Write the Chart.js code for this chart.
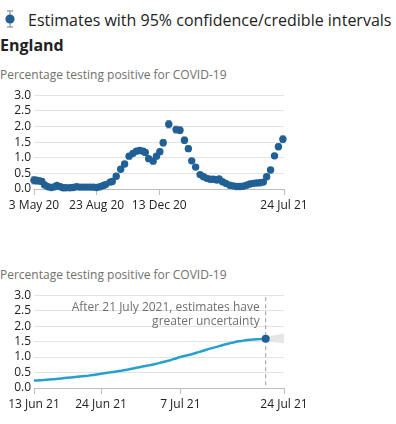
<!DOCTYPE html>
<html>
<head>
<meta charset="utf-8">
<script src="https://cdn.jsdelivr.net/npm/chart.js"></script>
<style>
body { margin:0; width:396px; height:424px; position:relative; overflow:hidden; background:#fff; color:#222; font-family:'Open Sans', sans-serif; }
.icon { position:absolute; left:4px; top:10px; }
.legend { position:absolute; left:28px; top:8px; font-size:16px; line-height:24px; white-space:nowrap; }
.place { position:absolute; left:0; top:34px; font-size:16px; line-height:22px; font-weight:bold; }
.sub { position:absolute; left:0; font-size:12px; line-height:16px; color:#707070; white-space:nowrap; }
.box { position:absolute; left:0; width:396px; }
</style>
</head>
<body>
<svg class="icon" width="12" height="18">
  <line x1="6" y1="1" x2="6" y2="17" stroke="#8c8c8c" stroke-width="1.2"/>
  <line x1="3" y1="1" x2="9" y2="1" stroke="#8c8c8c" stroke-width="1.2"/>
  <line x1="3" y1="17" x2="9" y2="17" stroke="#8c8c8c" stroke-width="1.2"/>
  <circle cx="6" cy="9" r="4.6" fill="#206095"/>
</svg>
<div class="legend">Estimates with 95% confidence/credible intervals</div>
<div class="place">England</div>
<div class="sub" style="top:67px">Percentage testing positive for COVID-19</div>
<div class="box" style="top:85px;height:130px"><canvas id="longChart"></canvas></div>
<div class="sub" style="top:267px">Percentage testing positive for COVID-19</div>
<div class="box" style="top:285px;height:131px"><canvas id="recentChart"></canvas></div>
<script>
// top chart: days since 3 May 2020
const dayOffsets = [0, 4, 9, 14, 19, 25, 31, 37, 41, 47, 52, 57, 64, 70, 76, 82, 88, 94, 100, 106,
  112, 118, 124, 128, 136, 140, 147, 155, 162, 170, 177, 183, 189, 195, 199, 205, 213, 219, 225, 231,
  241, 254, 261, 269, 276, 282, 289, 297, 303, 309, 315, 321, 327, 331, 337, 343, 350, 356, 362, 368,
  374, 380, 386, 392, 398, 404, 410, 416, 423, 430, 437, 445];
const positivity = [0.28, 0.27, 0.26, 0.24, 0.13, 0.07, 0.05, 0.07, 0.11, 0.07, 0.04, 0.04, 0.04, 0.05, 0.07, 0.06, 0.06, 0.06, 0.06, 0.06,
  0.05, 0.07, 0.11, 0.14, 0.22, 0.24, 0.41, 0.63, 0.80, 1.05, 1.14, 1.21, 1.23, 1.21, 1.17, 0.97, 0.89, 1.05, 1.19, 1.48,
  2.07, 1.90, 1.88, 1.56, 1.29, 0.90, 0.70, 0.46, 0.39, 0.34, 0.31, 0.31, 0.29, 0.32, 0.23, 0.18, 0.12, 0.10, 0.08, 0.08,
  0.09, 0.12, 0.16, 0.18, 0.19, 0.20, 0.22, 0.39, 0.61, 1.06, 1.35, 1.59];
const ciHalfWidth = [0.12, 0.11, 0.10, 0.09, 0.05, 0.04, 0.03, 0.04, 0.05, 0.03, 0.02, 0.02, 0.02, 0.02, 0.02, 0.02, 0.02, 0.02, 0.02, 0.02,
  0.02, 0.02, 0.03, 0.03, 0.04, 0.04, 0.05, 0.06, 0.07, 0.08, 0.08, 0.08, 0.08, 0.08, 0.08, 0.07, 0.07, 0.08, 0.08, 0.10,
  0.12, 0.11, 0.11, 0.10, 0.09, 0.07, 0.06, 0.05, 0.04, 0.04, 0.04, 0.04, 0.04, 0.04, 0.03, 0.03, 0.02, 0.02, 0.02, 0.02,
  0.02, 0.02, 0.03, 0.03, 0.03, 0.03, 0.03, 0.05, 0.06, 0.08, 0.09, 0.11];
const xTickDays1 = [0, 112, 224, 447];
const xTickLabels1 = ['3 May 20', '23 Aug 20', '13 Dec 20', '24 Jul 21'];

// bottom chart: days since 13 Jun 2021
const modelDays = [0, 1, 2, 3, 4, 5, 6, 7, 8, 9, 10, 11, 12, 13, 14, 15, 16, 17, 18, 19,
  20, 21, 22, 23, 24, 25, 26, 27, 28, 29, 30, 31, 32, 33, 34, 35, 36, 37, 38];
const modelPositivity = [0.24, 0.25, 0.27, 0.28, 0.30, 0.32, 0.34, 0.36, 0.38, 0.40, 0.43, 0.46, 0.49, 0.52, 0.55, 0.58, 0.62, 0.66, 0.70, 0.74,
  0.78, 0.83, 0.88, 0.94, 1.00, 1.05, 1.10, 1.16, 1.22, 1.28, 1.33, 1.39, 1.44, 1.49, 1.52, 1.55, 1.57, 1.58, 1.59];
const uncertaintyDays = [38, 39, 40, 41];
const uncertaintyLower = [1.52, 1.50, 1.47, 1.45];
const uncertaintyUpper = [1.65, 1.69, 1.73, 1.77];
const xTickDays2 = [0, 11, 24, 41];
const xTickLabels2 = ['13 Jun 21', '24 Jun 21', '7 Jul 21', '24 Jul 21'];
const noteDay = 38;
const noteLines = ['After 21 July 2021, estimates have', 'greater uncertainty'];

const yTicks = [0, 0.5, 1, 1.5, 2, 2.5, 3];

Chart.defaults.font.family = "'Open Sans', sans-serif";
Chart.defaults.color = '#222';

function makeScales(xMax, tickDays, tickLabels, xHeight) {
  return {
    x: {
      type: 'linear', min: 0, max: xMax,
      afterBuildTicks: s => { s.ticks = tickDays.map(v => ({ value: v })); },
      afterFit: s => { s.height = xHeight; },
      ticks: { autoSkip: false, maxRotation: 0, padding: 3, font: { size: 12 }, color: '#222',
        callback: (v, i) => tickLabels[i] },
      grid: { drawOnChartArea: false, drawTicks: true, tickLength: 6, color: '#bdbdbd' },
      border: { color: '#bdbdbd' }
    },
    y: {
      min: 0, max: 3,
      afterBuildTicks: s => { s.ticks = yTicks.map(v => ({ value: v })); },
      afterFit: s => { s.width = 34; },
      ticks: { autoSkip: false, padding: 3, font: { size: 12 }, color: '#222', callback: v => v.toFixed(1) },
      grid: { color: '#e3e3e3', drawTicks: false },
      border: { display: false }
    }
  };
}

const errorBars = {
  id: 'errorBars',
  beforeDatasetsDraw(chart) {
    const { ctx, scales: { x, y } } = chart;
    ctx.save();
    ctx.strokeStyle = '#9a9a9a';
    ctx.lineWidth = 1;
    dayOffsets.forEach((d, i) => {
      const px = x.getPixelForValue(d);
      const lo = y.getPixelForValue(positivity[i] - ciHalfWidth[i]);
      const hi = y.getPixelForValue(positivity[i] + ciHalfWidth[i]);
      ctx.beginPath();
      ctx.moveTo(px, lo); ctx.lineTo(px, hi);
      ctx.moveTo(px - 2.5, lo); ctx.lineTo(px + 2.5, lo);
      ctx.moveTo(px - 2.5, hi); ctx.lineTo(px + 2.5, hi);
      ctx.stroke();
    });
    ctx.restore();
  }
};

new Chart(document.getElementById('longChart'), {
  type: 'scatter',
  data: {
    datasets: [{
      data: dayOffsets.map((d, i) => ({ x: d, y: positivity[i] })),
      backgroundColor: '#206095',
      borderWidth: 0,
      pointRadius: 3.7,
      clip: false
    }]
  },
  options: {
    responsive: true,
    maintainAspectRatio: false,
    animation: false,
    layout: { padding: { top: 10, right: 112, left: 0, bottom: 0 } },
    scales: makeScales(447, xTickDays1, xTickLabels1, 26),
    plugins: { legend: { display: false }, tooltip: { enabled: false } }
  },
  plugins: [errorBars]
});

const uncertaintyNote = {
  id: 'uncertaintyNote',
  beforeDatasetsDraw(chart) {
    const { ctx, chartArea, scales: { x } } = chart;
    const px = x.getPixelForValue(noteDay);
    ctx.save();
    ctx.strokeStyle = '#9e9e9e';
    ctx.lineWidth = 1;
    ctx.setLineDash([4, 3]);
    ctx.beginPath();
    ctx.moveTo(px, chartArea.top + 2);
    ctx.lineTo(px, chartArea.bottom);
    ctx.stroke();
    ctx.setLineDash([]);
    ctx.fillStyle = '#707070';
    ctx.font = "12px 'Open Sans', sans-serif";
    ctx.textAlign = 'right';
    ctx.textBaseline = 'middle';
    noteLines.forEach((t, i) => ctx.fillText(t, px - 6, chartArea.top + 12 + i * 14));
    ctx.restore();
  }
};

new Chart(document.getElementById('recentChart'), {
  type: 'line',
  data: {
    datasets: [
      {
        data: uncertaintyDays.map((d, i) => ({ x: d, y: uncertaintyLower[i] })),
        borderWidth: 0, pointRadius: 0, fill: false, order: 3
      },
      {
        data: uncertaintyDays.map((d, i) => ({ x: d, y: uncertaintyUpper[i] })),
        borderWidth: 0, pointRadius: 0, fill: '-1', backgroundColor: '#e6e6e6', order: 2
      },
      {
        data: modelDays.map((d, i) => ({ x: d, y: modelPositivity[i] })),
        borderColor: '#27a0cc', borderWidth: 2.5, pointRadius: 0, tension: 0.4, fill: false, order: 1
      },
      {
        data: [{ x: noteDay, y: modelPositivity[modelDays.indexOf(noteDay)] }],
        showLine: false, pointRadius: 4, backgroundColor: '#206095', borderWidth: 0, clip: false, order: 0
      }
    ]
  },
  options: {
    responsive: true,
    maintainAspectRatio: false,
    animation: false,
    layout: { padding: { top: 10, right: 112, left: 0, bottom: 0 } },
    scales: makeScales(41, xTickDays2, xTickLabels2, 28),
    plugins: { legend: { display: false }, tooltip: { enabled: false } }
  },
  plugins: [uncertaintyNote]
});
</script>
</body>
</html>
